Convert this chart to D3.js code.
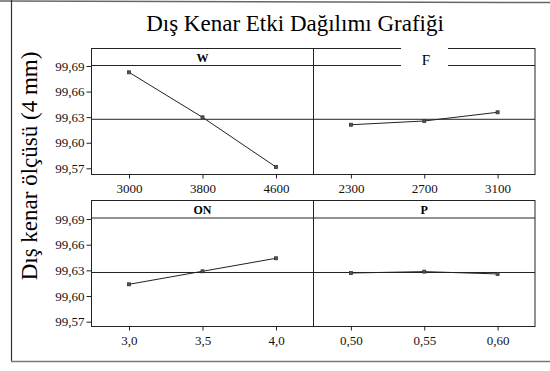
<!DOCTYPE html>
<html>
<head>
<meta charset="utf-8">
<script src="https://cdn.jsdelivr.net/npm/d3@7"></script>
<style>
  body { margin: 0; background: #fff; }
</style>
</head>
<body>
<div id="chart"></div>
<script>
// chart values
var factors = ["W", "F", "ON", "P"];
var levelsW = ["3000", "3800", "4600"];
var meansW = [99.6826, 99.6298, 99.5715];
var levelsF = ["2300", "2700", "3100"];
var meansF = [99.6211, 99.6255, 99.6357];
var levelsON = ["3,0", "3,5", "4,0"];
var meansON = [99.6137, 99.6289, 99.6441];
var levelsP = ["0,50", "0,55", "0,60"];
var meansP = [99.6269, 99.6285, 99.6258];
var yTicks = [99.57, 99.60, 99.63, 99.66, 99.69];
var grandMean = 99.6275;

var levels = [levelsW, levelsF, levelsON, levelsP];
var means = [meansW, meansF, meansON, meansP];

// pick the first serif face that is really installed
var ctx = document.createElement("canvas").getContext("2d");
function hasFont(f) {
  var s = "Dış Kenar 99,69 mmWi";
  ctx.font = "40px monospace";
  var a = ctx.measureText(s).width;
  ctx.font = "40px '" + f + "', monospace";
  return ctx.measureText(s).width != a;
}
var serifName = ["Liberation Serif", "DejaVu Serif", "Noto Serif", "Times New Roman", "Tinos", "FreeSerif"]
  .filter(hasFont)[0];
var serif = serifName ? "'" + serifName + "', serif" : "serif";

var width = 550, height = 371;
var svg = d3.select("#chart").append("svg")
  .attr("width", width)
  .attr("height", height)
  .attr("font-family", serif);

// outer frame of the scanned page
svg.append("line").attr("x1", 0).attr("x2", width).attr("y1", 1).attr("y2", 2.5)
  .attr("stroke", "#666").attr("stroke-width", 1.5);
svg.append("line").attr("x1", 11.5).attr("x2", 11.5).attr("y1", 0).attr("y2", 361)
  .attr("stroke", "#333").attr("stroke-width", 1.2);
svg.append("line").attr("x1", 11).attr("x2", width).attr("y1", 361.5).attr("y2", 361.5)
  .attr("stroke", "#777").attr("stroke-width", 1.5);

// titles
svg.append("text")
  .attr("x", 295).attr("y", 31)
  .attr("text-anchor", "middle")
  .style("font-family", serif)
  .style("font-size", "23px")
  .text("Dış Kenar Etki Dağılımı Grafiği");

svg.append("text")
  .attr("transform", "translate(37,166) rotate(-90)")
  .attr("text-anchor", "middle")
  .style("font-family", serif)
  .style("font-size", "23px")
  .text("Dış kenar ölçüsü (4 mm)");

var fmt = d3.formatLocale({decimal: ",", thousands: ".", grouping: [3], currency: ["", ""]}).format(".2f");

var colX = [[91.5, 313.5], [313.5, 535]];
var rowY = [{top: 48.5, strip: 65.5, bottom: 174.5, y57: 168.3, y69: 66},
            {top: 200.5, strip: 218, bottom: 326.5, y57: 321.7, y69: 219}];

factors.forEach(function(name, i) {
  var c = i % 2, r = Math.floor(i / 2);
  var cx = colX[c], ry = rowY[r];

  var x = d3.scalePoint().domain(levels[i]).range(cx).padding(0.51);
  var y = d3.scaleLinear().domain([99.57, 99.69]).range([ry.y57, ry.y69]);

  var g = svg.append("g");

  // panel frame + strip
  g.append("rect")
    .attr("x", cx[0]).attr("y", ry.top)
    .attr("width", cx[1] - cx[0]).attr("height", ry.bottom - ry.top)
    .attr("fill", "none").attr("stroke", "#222").attr("stroke-width", 1);
  g.append("line")
    .attr("x1", cx[0]).attr("x2", cx[1]).attr("y1", ry.strip).attr("y2", ry.strip)
    .attr("stroke", "#222").attr("stroke-width", 1);

  // reference line at the grand mean
  g.append("line")
    .attr("x1", cx[0]).attr("x2", cx[1])
    .attr("y1", y(grandMean)).attr("y2", y(grandMean))
    .attr("stroke", "#222").attr("stroke-width", 1);

  // strip label
  if (name == "F") {
    // the scan has a white patch round the F
    g.append("rect").attr("x", 401).attr("y", 45).attr("width", 47).attr("height", 23).attr("fill", "#fff");
    g.append("text")
      .attr("x", 426).attr("y", 65)
      .attr("text-anchor", "middle")
      .style("font-family", serif)
      .style("font-size", "15px")
      .text(name);
  } else {
    g.append("text")
      .attr("x", (cx[0] + cx[1]) / 2).attr("y", ry.strip - 4)
      .attr("text-anchor", "middle")
      .style("font-family", serif)
      .style("font-size", "12px").style("font-weight", "bold")
      .text(name);
  }

  // x axis
  var xa = g.append("g")
    .attr("transform", "translate(0," + ry.bottom + ")")
    .call(d3.axisBottom(x).tickSize(4).tickPadding(5));
  xa.attr("font-family", serif);
  xa.select(".domain").remove();
  xa.selectAll("line").attr("stroke", "#222");
  xa.selectAll("text").style("font-family", serif).style("font-size", "13px").attr("fill", "#111");

  // y axis only in left column
  if (c == 0) {
    var ya = g.append("g")
      .attr("transform", "translate(" + cx[0] + ",0)")
      .call(d3.axisLeft(y).tickValues(yTicks).tickFormat(fmt).tickSize(5).tickPadding(2));
    ya.attr("font-family", serif);
    ya.select(".domain").remove();
    ya.selectAll("line").attr("stroke", "#222");
    ya.selectAll("text").style("font-family", serif).style("font-size", "13px").attr("fill", "#111");
  }

  // main effect line
  var pts = levels[i].map(function(l, k) { return {lev: l, val: means[i][k]}; });
  g.append("path")
    .datum(pts)
    .attr("fill", "none")
    .attr("stroke", "#222")
    .attr("stroke-width", 1)
    .attr("d", d3.line().x(function(d) { return x(d.lev); }).y(function(d) { return y(d.val); }));

  g.selectAll(".pt")
    .data(pts)
    .enter()
    .append("rect")
    .attr("x", function(d) { return x(d.lev) - 1.5; })
    .attr("y", function(d) { return y(d.val) - 1.5; })
    .attr("width", 3).attr("height", 3)
    .attr("fill", "#555").attr("stroke", "#333").attr("stroke-width", 0.8);
});
</script>
</body>
</html>
